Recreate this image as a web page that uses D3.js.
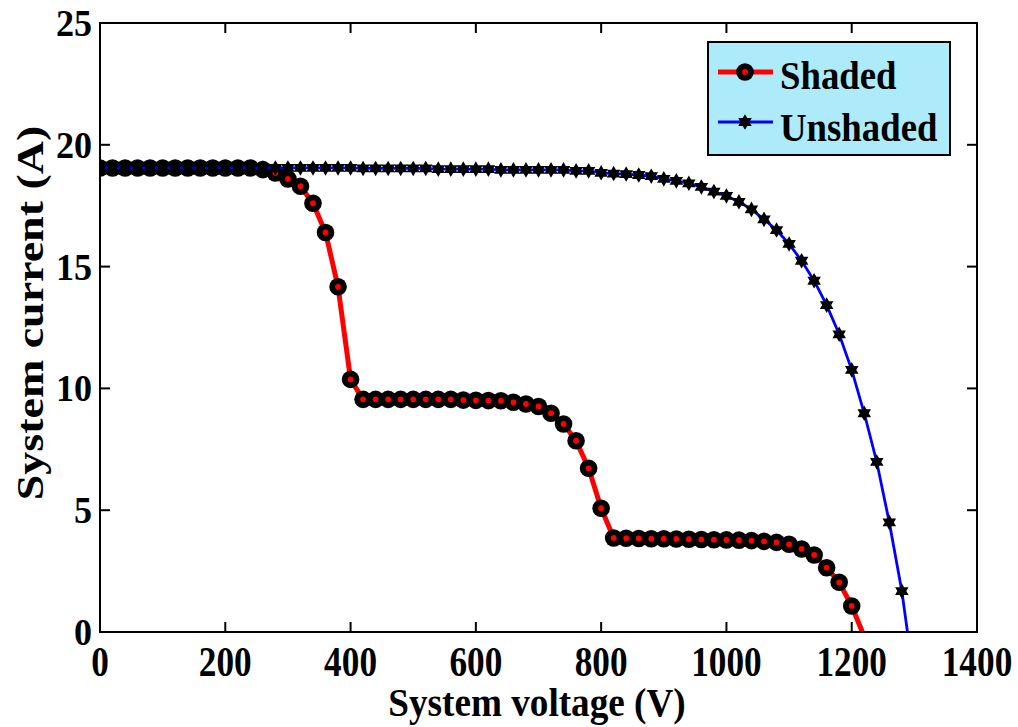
<!DOCTYPE html>
<html>
<head>
<meta charset="utf-8">
<script src="https://cdn.jsdelivr.net/npm/d3@7"></script>
<style>
  html, body { margin: 0; padding: 0; background: #fff; }
  svg { display: block; }
</style>
</head>
<body>
<svg id="chart" width="1018" height="727"></svg>
<script>
// I–V curves of the PV array, sampled every 20 V
const shadedVoltage = [0, 20, 40, 60, 80, 100, 120, 140, 160, 180, 200, 220, 240, 260, 280, 300,
  320, 340, 360, 380, 400, 420, 440, 460, 480, 500, 520, 540, 560, 580, 600, 620, 640, 660, 680,
  700, 720, 740, 760, 780, 800, 820, 840, 860, 880, 900, 920, 940, 960, 980, 1000, 1020, 1040,
  1060, 1080, 1100, 1120, 1140, 1160, 1180, 1200];
const shadedCurrent = [19.05, 19.05, 19.05, 19.05, 19.05, 19.05, 19.05, 19.05, 19.05, 19.05, 19.05,
  19.05, 19.05, 18.98, 18.84, 18.6, 18.3, 17.6, 16.4, 14.17, 10.37, 9.55, 9.55, 9.55, 9.55, 9.55,
  9.55, 9.55, 9.55, 9.52, 9.51, 9.5, 9.49, 9.43, 9.36, 9.26, 8.98, 8.54, 7.85, 6.72, 5.08, 3.86,
  3.85, 3.84, 3.83, 3.83, 3.82, 3.81, 3.8, 3.79, 3.78, 3.77, 3.75, 3.72, 3.68, 3.6, 3.41, 3.16,
  2.64, 2.04, 1.07];
const shadedOpenCircuit = [1217, 0];

const unshadedVoltage = [0, 20, 40, 60, 80, 100, 120, 140, 160, 180, 200, 220, 240, 260, 280, 300,
  320, 340, 360, 380, 400, 420, 440, 460, 480, 500, 520, 540, 560, 580, 600, 620, 640, 660, 680,
  700, 720, 740, 760, 780, 800, 820, 840, 860, 880, 900, 920, 940, 960, 980, 1000, 1020, 1040,
  1060, 1080, 1100, 1120, 1140, 1160, 1180, 1200, 1220, 1240, 1260, 1280];
const unshadedCurrent = [19.05, 19.05, 19.05, 19.05, 19.05, 19.05, 19.05, 19.05, 19.05, 19.05,
  19.05, 19.05, 19.05, 19.05, 19.05, 19.05, 19.05, 19.05, 19.05, 19.05, 19.05, 19.03, 19.03, 19.03,
  19.03, 19.03, 19.03, 19.0, 19.0, 19.0, 19.0, 19.0, 18.97, 18.97, 18.97, 18.97, 18.97, 18.97,
  18.93, 18.93, 18.85, 18.82, 18.8, 18.76, 18.71, 18.6, 18.52, 18.42, 18.27, 18.08, 17.9, 17.66,
  17.35, 16.94, 16.5, 15.93, 15.24, 14.42, 13.42, 12.22, 10.76, 8.98, 6.98, 4.5, 1.68];
const unshadedOpenCircuit = [1289, 0];

const xTicks = [0, 200, 400, 600, 800, 1000, 1200, 1400];
const yTicks = [0, 5, 10, 15, 20, 25];
const seriesNames = ["Shaded", "Unshaded"];

const FONT = '"Liberation Serif", "Times New Roman", serif';
const svg = d3.select("#chart");

const plot = { left: 100, right: 977, top: 23, bottom: 632 };
const x = d3.scaleLinear().domain([0, 1400]).range([plot.left, plot.right]);
const y = d3.scaleLinear().domain([0, 25]).range([plot.bottom, plot.top]);

function label(g, px, py, str, opts) {
  const o = Object.assign({ size: 40, anchor: "middle", sx: 1, sy: 1, rot: 0 }, opts);
  return g.append("text")
    .attr("transform", `translate(${px},${py}) rotate(${o.rot}) scale(${o.sx},${o.sy})`)
    .attr("text-anchor", o.anchor)
    .attr("font-family", FONT)
    .attr("font-weight", "bold")
    .attr("font-size", o.size)
    .attr("fill", "#000")
    .text(str);
}

// six-pointed star marker
function hexagram(R) {
  const r = R / Math.sqrt(3);
  const pts = d3.range(12).map(i => {
    const a = (-90 + i * 30) * Math.PI / 180;
    const rad = i % 2 === 0 ? R : r;
    return [rad * Math.cos(a), rad * Math.sin(a)];
  });
  return "M" + pts.map(p => p.join(",")).join("L") + "Z";
}

const shaded = shadedVoltage.map((v, i) => [v, shadedCurrent[i]]);
const unshaded = unshadedVoltage.map((v, i) => [v, unshadedCurrent[i]]);
const line = d3.line().x(d => x(d[0])).y(d => y(d[1]));

const clipId = "plotClip";
svg.append("clipPath").attr("id", clipId).append("rect")
  .attr("x", plot.left).attr("y", plot.top)
  .attr("width", plot.right - plot.left).attr("height", plot.bottom - plot.top);

const body = svg.append("g").attr("clip-path", `url(#${clipId})`);

// Shaded curve
body.append("path")
  .datum(shaded.concat([shadedOpenCircuit]))
  .attr("d", line).attr("fill", "none")
  .attr("stroke", "#ff0000").attr("stroke-width", 5).attr("stroke-linejoin", "round");
const sm = body.append("g").selectAll("g").data(shaded).join("g")
  .attr("transform", d => `translate(${x(d[0])},${y(d[1])})`);
sm.append("circle").attr("r", 8.8).attr("fill", "#000");
sm.append("circle").attr("r", 2.9).attr("fill", "#ff0000");

// Unshaded curve
body.append("path")
  .datum(unshaded.concat([unshadedOpenCircuit]))
  .attr("d", line).attr("fill", "none")
  .attr("stroke", "#0000ff").attr("stroke-width", 2.8);
body.append("g").selectAll("path").data(unshaded).join("path")
  .attr("transform", d => `translate(${x(d[0])},${y(d[1])})`)
  .attr("d", hexagram(7.8)).attr("fill", "#000");

// Frame and inward ticks on all four sides
const axes = svg.append("g").attr("stroke", "#000").attr("stroke-width", 2).attr("fill", "none");
axes.append("rect")
  .attr("x", plot.left).attr("y", plot.top)
  .attr("width", plot.right - plot.left).attr("height", plot.bottom - plot.top);
const TL = 10;
xTicks.forEach(t => {
  axes.append("line").attr("x1", x(t)).attr("x2", x(t)).attr("y1", plot.bottom).attr("y2", plot.bottom - TL);
  axes.append("line").attr("x1", x(t)).attr("x2", x(t)).attr("y1", plot.top).attr("y2", plot.top + TL);
});
yTicks.forEach(t => {
  axes.append("line").attr("x1", plot.left).attr("x2", plot.left + TL).attr("y1", y(t)).attr("y2", y(t));
  axes.append("line").attr("x1", plot.right).attr("x2", plot.right - TL).attr("y1", y(t)).attr("y2", y(t));
});

// Tick labels
const labels = svg.append("g");
xTicks.forEach(t => label(labels, x(t), 676, String(t), { size: 42, sx: 0.84 }));
yTicks.forEach(t => label(labels, 92, y(t) + 13, String(t), { size: 38, anchor: "end", sx: 0.95 }));

// Axis titles
label(labels, 537, 716, "System voltage (V)", { size: 40, sx: 0.93 });
label(labels, 43, 313, "System current (A)", { size: 46, rot: -90, sx: 1.0, sy: 0.84 });

// Legend
const lg = svg.append("g");
lg.append("rect").attr("x", 708).attr("y", 42).attr("width", 242).attr("height", 113)
  .attr("fill", "#adebfa").attr("stroke", "#000").attr("stroke-width", 2);
const entries = [
  { name: seriesNames[0], yy: 72, base: 89 },
  { name: seriesNames[1], yy: 122, base: 141 }
];
lg.append("line").attr("x1", 718).attr("x2", 773).attr("y1", entries[0].yy).attr("y2", entries[0].yy)
  .attr("stroke", "#ff0000").attr("stroke-width", 5);
lg.append("circle").attr("cx", 745).attr("cy", entries[0].yy).attr("r", 8.8).attr("fill", "#000");
lg.append("circle").attr("cx", 745).attr("cy", entries[0].yy).attr("r", 2.9).attr("fill", "#ff0000");
lg.append("line").attr("x1", 718).attr("x2", 773).attr("y1", entries[1].yy).attr("y2", entries[1].yy)
  .attr("stroke", "#0000ff").attr("stroke-width", 2.8);
lg.append("path").attr("transform", `translate(745,${entries[1].yy})`).attr("d", hexagram(7.8)).attr("fill", "#000");
entries.forEach(e => label(lg, 780, e.base, e.name, { size: 40, anchor: "start", sx: 0.92 }));
</script>
</body>
</html>
